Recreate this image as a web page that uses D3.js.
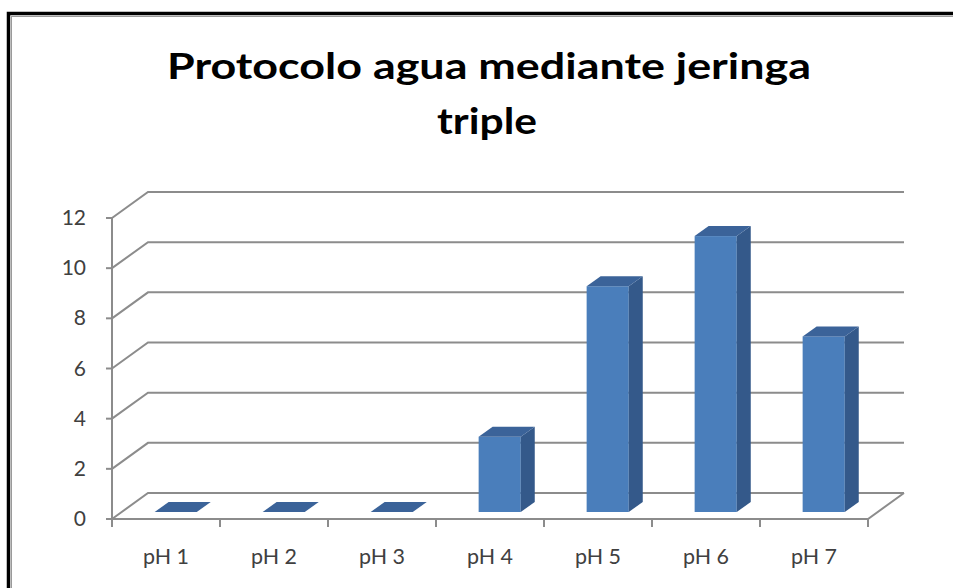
<!DOCTYPE html>
<html>
<head>
<meta charset="utf-8">
<script src="https://cdn.jsdelivr.net/npm/d3@7"></script>
<style>
  html, body { margin: 0; padding: 0; background: #fff; }
  svg { display: block; }
</style>
</head>
<body>
<svg id="chart" width="953" height="588"></svg>
<script>
// Chart data
const categories = ["pH 1", "pH 2", "pH 3", "pH 4", "pH 5", "pH 6", "pH 7"];
const values = [0, 0, 0, 3, 9, 11, 7];
const yTicks = [0, 2, 4, 6, 8, 10, 12];
const titleLines = ["Protocolo agua mediante jeringa", "triple"];

const svg = d3.select("#chart");
const W = 953, H = 588;

// Frame
svg.append("rect").attr("x", 0).attr("y", 0).attr("width", W).attr("height", H).attr("fill", "#fff");
svg.append("rect").attr("x", 8.5).attr("y", 13.5).attr("width", W + 20).attr("height", H + 20)
  .attr("fill", "none").attr("stroke", "#000").attr("stroke-width", 3.5);
svg.append("rect").attr("x", 11.5).attr("y", 16.5).attr("width", W + 20).attr("height", H + 20)
  .attr("fill", "none").attr("stroke", "#9a9a9a").attr("stroke-width", 1);

// Title
const title = svg.append("g").attr("font-family", "Lato, 'Open Sans', sans-serif")
  .attr("font-weight", "bold").attr("fill", "#000").attr("text-anchor", "middle");
title.append("text").attr("x", 489).attr("y", 79).attr("font-size", 36)
  .attr("textLength", 644).attr("lengthAdjust", "spacingAndGlyphs").text(titleLines[0]);
title.append("text").attr("x", 487).attr("y", 134).attr("font-size", 36)
  .attr("textLength", 100).attr("lengthAdjust", "spacingAndGlyphs").text(titleLines[1]);

// Projection: front plane plus depth offset
const x0 = 112, x1 = 868;
const depthX = 36, depthY = -26;
const x = d3.scaleBand().domain(categories).range([x0, x1]).paddingInner(0).paddingOuter(0);
const y = d3.scaleLinear().domain([0, 12]).range([519, 218]);

const gridColor = "#8c8c8c";
const grid = svg.append("g").attr("stroke", gridColor).attr("stroke-width", 2).attr("fill", "none");

// Walls: side diagonals and back gridlines
yTicks.forEach(t => {
  const yy = y(t);
  grid.append("path").attr("d", d3.line()([[x0, yy], [x0 + depthX, yy + depthY], [x1 + depthX, yy + depthY]]));
});
// Floor front edge and right edge
grid.append("path").attr("d", d3.line()([[x0, y(0)], [x1, y(0)], [x1 + depthX, y(0) + depthY]]));

// Value axis
grid.append("line").attr("x1", x0).attr("x2", x0).attr("y1", y(12)).attr("y2", y(0));
yTicks.forEach(t => {
  grid.append("line").attr("x1", x0 - 6).attr("x2", x0).attr("y1", y(t)).attr("y2", y(t));
});
// Category ticks
categories.concat([null]).forEach((c, i) => {
  const xx = x0 + i * x.bandwidth();
  grid.append("line").attr("x1", xx).attr("x2", xx).attr("y1", y(0)).attr("y2", y(0) + 8);
});

// Axis labels
const labels = svg.append("g").attr("font-family", "Lato, 'Open Sans', sans-serif").attr("fill", "#404040");
yTicks.forEach(t => {
  labels.append("text").attr("x", 86).attr("y", y(t) + 7).attr("font-size", 21)
    .attr("text-anchor", "end").text(t);
});
categories.forEach(c => {
  labels.append("text").attr("x", x(c) + x.bandwidth() / 2).attr("y", 564).attr("font-size", 22)
    .attr("text-anchor", "middle").attr("textLength", 46).attr("lengthAdjust", "spacingAndGlyphs").text(c);
});

// 3D columns
const barFrac = 0.39;
const barOffX = 9.7, barOffY = -7;     // front face depth position
const barDX = 14, barDY = -10;         // column depth
const bars = svg.append("g");
categories.forEach((c, i) => {
  const v = values[i];
  const cx = x(c) + x.bandwidth() / 2 + barOffX;
  const bw = x.bandwidth() * barFrac;
  const xl = cx - bw / 2, xr = cx + bw / 2;
  const yb = y(0) + barOffY, yt = y(v) + barOffY;
  const g = bars.append("g");
  if (v > 0) {
    g.append("rect").attr("x", xl).attr("y", yt).attr("width", bw).attr("height", yb - yt)
      .attr("fill", "#4a7ebb");
    g.append("path").attr("d", d3.line()([[xr, yt], [xr + barDX, yt + barDY], [xr + barDX, yb + barDY], [xr, yb]]) + "Z")
      .attr("fill", "#34598a");
  }
  g.append("path").attr("d", d3.line()([[xl, yt], [xl + barDX, yt + barDY], [xr + barDX, yt + barDY], [xr, yt]]) + "Z")
    .attr("fill", "#3b6399");
});
</script>
</body>
</html>
